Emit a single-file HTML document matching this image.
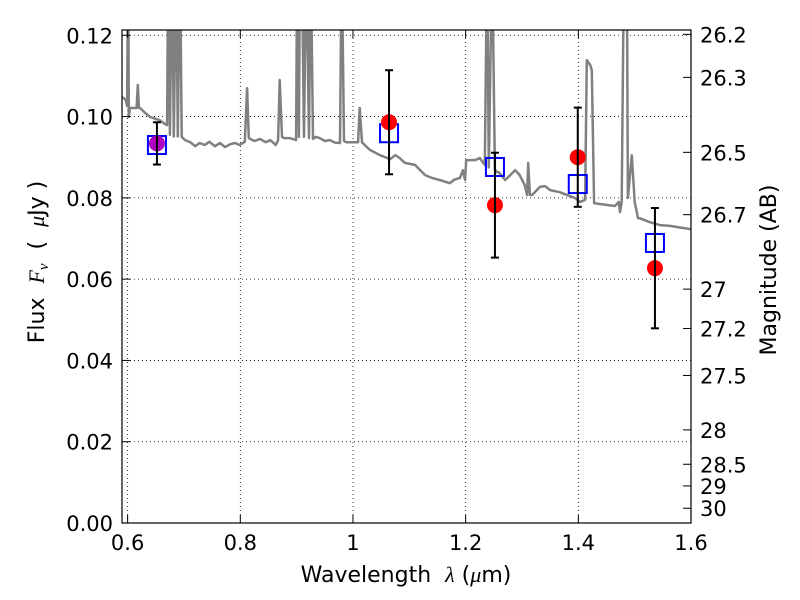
<!DOCTYPE html>
<html><head><meta charset="utf-8"><style>
html,body{margin:0;padding:0;background:#fff;width:800px;height:600px;overflow:hidden}
svg{font-family:"DejaVu Sans","Liberation Sans",sans-serif}
</style></head><body>
<svg id="chart" width="800" height="600" xmlns="http://www.w3.org/2000/svg"></svg>
<script>
const xTicks=[0.6,0.8,1.0,1.2,1.4,1.6];
const xTickLabels=["0.6","0.8","1","1.2","1.4","1.6"];
const yTicks=[0,0.02,0.04,0.06,0.08,0.10,0.12];
const yTickLabels=["0.00","0.02","0.04","0.06","0.08","0.10","0.12"];
const magTicks=[26.2,26.3,26.5,26.7,27,27.2,27.5,28,28.5,29,30];
const magTickLabels=["26.2","26.3","26.5","26.7","27","27.2","27.5","28","28.5","29","30"];
const specWl=[0.590,0.597,0.599,0.601,0.602,0.604,0.611,0.616,0.618,0.620,0.622,0.631,0.640,0.657,0.666,0.670,0.672,0.675,0.679,0.682,0.686,0.689,0.693,0.696,0.702,0.711,0.720,0.728,0.737,0.745,0.755,0.764,0.773,0.782,0.791,0.799,0.808,0.812,0.815,0.825,0.835,0.845,0.853,0.863,0.867,0.870,0.874,0.878,0.888,0.899,0.901,0.904,0.906,0.909,0.913,0.917,0.922,0.925,0.929,0.934,0.941,0.950,0.959,0.968,0.977,0.980,0.984,0.988,0.995,1.009,1.012,1.016,1.023,1.030,1.048,1.066,1.075,1.083,1.092,1.110,1.128,1.140,1.154,1.172,1.180,1.190,1.195,1.199,1.201,1.217,1.225,1.234,1.238,1.241,1.247,1.252,1.256,1.259,1.270,1.279,1.288,1.296,1.305,1.309,1.311,1.314,1.318,1.332,1.341,1.350,1.367,1.394,1.403,1.412,1.415,1.421,1.424,1.428,1.438,1.465,1.472,1.474,1.477,1.481,1.486,1.488,1.495,1.500,1.506,1.509,1.527,1.545,1.563,1.580,1.600];
const specFlux=[0.1048,0.1041,0.1026,0.140,0.0999,0.1021,0.1021,0.1021,0.1078,0.1021,0.1021,0.1009,0.0999,0.0991,0.0982,0.0979,0.140,0.0955,0.140,0.0951,0.140,0.0951,0.140,0.0950,0.0942,0.0937,0.0927,0.0935,0.0930,0.0938,0.0927,0.0935,0.0925,0.0932,0.0935,0.0930,0.0938,0.1070,0.0947,0.0940,0.0945,0.0937,0.0942,0.0930,0.0942,0.1090,0.0950,0.0947,0.0947,0.0942,0.140,0.0950,0.140,0.140,0.0950,0.140,0.0947,0.140,0.0945,0.0950,0.0947,0.0940,0.0942,0.0936,0.0935,0.140,0.0940,0.0937,0.0937,0.0937,0.1021,0.0937,0.0927,0.0918,0.0905,0.0895,0.0905,0.0898,0.0886,0.0881,0.0856,0.0849,0.0844,0.0836,0.0845,0.0849,0.0868,0.0844,0.0893,0.0893,0.0898,0.0881,0.140,0.0875,0.140,0.0870,0.0863,0.0863,0.0844,0.0856,0.0868,0.0856,0.0831,0.0807,0.0886,0.0807,0.0807,0.0827,0.0829,0.0819,0.0814,0.0800,0.0790,0.0795,0.1139,0.1127,0.1114,0.0787,0.0785,0.0780,0.0790,0.0765,0.0790,0.140,0.140,0.0800,0.0905,0.0790,0.0750,0.0750,0.0740,0.0733,0.0731,0.0727,0.0723];
const obsWl=[0.652,1.064,1.252,1.399,1.536];
const obsFlux=[0.0934,0.0986,0.0782,0.0900,0.0627];
const obsErr=[0.0052,0.0128,0.0129,0.0122,0.0148];
const modelFlux=[0.0930,0.0959,0.0876,0.0834,0.0689];

const L=122,R=691,T=30,B=523,xmin=0.59,xmax=1.6,ymin=0,ymax=0.1213;
const X=v=>L+(v-xmin)/(xmax-xmin)*(R-L);
const Y=v=>B-(v-ymin)/(ymax-ymin)*(B-T);
const magToFlux=m=>Math.pow(10,(23.9-m)/2.5);
const svg=document.getElementById('chart');
const NS='http://www.w3.org/2000/svg';
function mk(tag,attrs,parent){const e=document.createElementNS(NS,tag);for(const k in attrs)e.setAttribute(k,attrs[k]);(parent||svg).appendChild(e);return e;}

const defs=mk('defs',{});
const cp=mk('clipPath',{id:'clip'},defs);
mk('rect',{x:L,y:T,width:R-L,height:B-T},cp);

const grid=mk('g',{});


xTicks.forEach(t=>{mk('line',{x1:X(t),x2:X(t),y1:T,y2:B,stroke:'#000','stroke-width':0.8,'stroke-dasharray':'1,3'},grid);});
yTicks.forEach(t=>{mk('line',{x1:L,x2:R,y1:Y(t),y2:Y(t),stroke:'#000','stroke-width':0.8,'stroke-dasharray':'1,3'},grid);});

const pts=specWl.map((w,i)=>X(w).toFixed(1)+','+Y(specFlux[i]).toFixed(1)).join(' ');
const spec=mk('polyline',{points:pts,fill:'none',stroke:'#808080','stroke-width':2.5,'clip-path':'url(#clip)','stroke-linejoin':'round'});



obsWl.forEach((w,i)=>{
  const s=mk('rect',{x:X(w)-9,y:Y(modelFlux[i])-9,width:18,height:18,fill:'none',stroke:'#0000ff','stroke-width':2});
  
  
});
obsWl.forEach((w,i)=>{
  const g=mk('g',{});
  
  
  const x=X(w),y1=Y(obsFlux[i]+obsErr[i]),y2=Y(obsFlux[i]-obsErr[i]);
  mk('circle',{cx:x,cy:Y(obsFlux[i]),r:8,fill:i===0?'#b000c0':'#ff0000'},g);
  mk('line',{x1:x,x2:x,y1:y1,y2:y2,stroke:'#000','stroke-width':2},g);
  mk('line',{x1:x-4,x2:x+4,y1:y1,y2:y1,stroke:'#000','stroke-width':2},g);
  mk('line',{x1:x-4,x2:x+4,y1:y2,y2:y2,stroke:'#000','stroke-width':2},g);
});

const fr=mk('rect',{x:L,y:T,width:R-L,height:B-T,fill:'none',stroke:'#000','stroke-width':1.2});



xTicks.forEach((t,i)=>{
  mk('line',{x1:X(t),x2:X(t),y1:B,y2:B-8,stroke:'#000'});
  mk('line',{x1:X(t),x2:X(t),y1:T,y2:T+8,stroke:'#000'});
  const tx=mk('text',{x:X(t),y:B+27,'font-size':21,'text-anchor':'middle'});
  tx.textContent=xTickLabels[i];
  
  
});
yTicks.forEach((t,i)=>{
  mk('line',{x1:L,x2:L+8,y1:Y(t),y2:Y(t),stroke:'#000'});
  const tx=mk('text',{x:L-9,y:Y(t)+8,'font-size':21,'text-anchor':'end'});
  tx.textContent=yTickLabels[i];
  
  
});
magTicks.forEach((m,i)=>{
  const y=Y(magToFlux(m));
  mk('line',{x1:R,x2:R-8,y1:y,y2:y,stroke:'#000'});
  const tx=mk('text',{x:R+9,y:y+8,'font-size':21,'text-anchor':'start'});
  tx.textContent=magTickLabels[i];
  
  
});

const xt=mk('text',{x:406,y:582,'font-size':22,'text-anchor':'middle'});
xt.innerHTML='Wavelength\u00a0\u00a0<tspan font-style="italic" font-family="Liberation Serif,serif">λ</tspan> (<tspan font-style="italic" font-family="Liberation Serif,serif">μ</tspan>m)';


const yt=mk('text',{x:44,y:262,'font-size':22,'text-anchor':'middle',transform:'rotate(-90 44 262)'});
yt.innerHTML='Flux\u00a0\u00a0<tspan font-style="italic" font-family="Liberation Serif,serif">F<tspan font-size="15" dy="4">ν</tspan></tspan><tspan dy="-4">\u00a0\u00a0(\u00a0\u00a0</tspan><tspan font-style="italic" font-family="Liberation Serif,serif">μ</tspan>Jy )';


const rt=mk('text',{x:776,y:270,'font-size':22,'text-anchor':'middle',transform:'rotate(-90 776 270)'});
rt.textContent='Magnitude (AB)';


</script>
</body></html>
